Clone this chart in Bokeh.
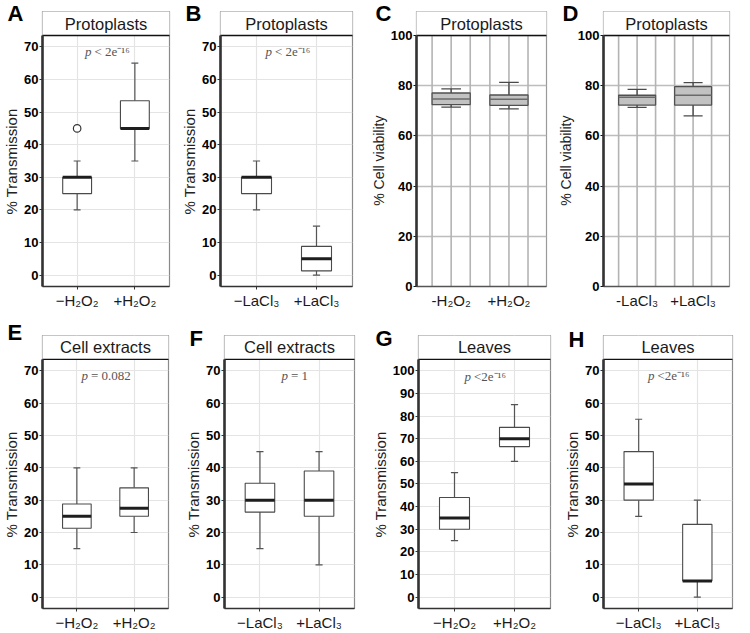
from bokeh.plotting import figure
from bokeh.layouts import row, column
from bokeh.models import Range1d, FixedTicker
from bokeh.core.properties import value
from bokeh.embed import file_html
from bokeh.resources import INLINE

SANS = "Liberation Sans"
SERIF = "Liberation Serif"
NBSP = "\u00a0"

# ---------------- data ----------------
H2O2_groups = ["\u2212H\u2082O\u2082", "+H\u2082O\u2082"]
LaCl_groups = ["\u2212LaCl\u2083", "+LaCl\u2083"]
H2O2_groups_v = ["-H\u2082O\u2082", "+H\u2082O\u2082"]
LaCl_groups_v = ["-LaCl\u2083", "+LaCl\u2083"]
P_SMALL = "< 2e\u207b\u00b9\u2076"
P_SMALL2 = "<2e\u207b\u00b9\u2076"

# A  Protoplasts, H2O2, % transmission
a_low = [20, 35]
a_q1 = [25, 45]
a_med = [30, 45]
a_q3 = [30, 53.5]
a_high = [35, 65]
a_out_idx = [0]
a_out_val = [45]

# B  Protoplasts, LaCl3, % transmission
b_low = [20, 0]
b_q1 = [25, 1.3]
b_med = [30, 5]
b_q3 = [30, 8.8]
b_high = [35, 15]

# C  Protoplasts, H2O2, % cell viability
c_low = [71.5, 70.8]
c_q1 = [72.5, 72.2]
c_med = [74.7, 74.6]
c_q3 = [77.1, 76.3]
c_high = [78.7, 81.3]

# D  Protoplasts, LaCl3, % cell viability
d_low = [71.4, 68.0]
d_q1 = [72.3, 72.3]
d_med = [75.4, 76.2]
d_q3 = [76.2, 79.6]
d_high = [78.5, 81.2]

# E  Cell extracts, H2O2
e_low = [15, 20]
e_q1 = [21.3, 25]
e_med = [25, 27.5]
e_q3 = [28.8, 33.8]
e_high = [40, 40]

# F  Cell extracts, LaCl3
f_low = [15, 10]
f_q1 = [26.3, 25]
f_med = [30, 30]
f_q3 = [35.2, 39]
f_high = [45, 45]

# G  Leaves, H2O2
g_low = [25, 60]
g_q1 = [30, 66.5]
g_med = [35, 70]
g_q3 = [44, 75]
g_high = [55, 85]

# H  Leaves, LaCl3
h_low = [25, 0]
h_q1 = [30, 5]
h_med = [35, 5]
h_q3 = [45, 22.5]
h_high = [55, 30]

trans_ticks = [0, 10, 20, 30, 40, 50, 60, 70]
leaf_ticks = [0, 10, 20, 30, 40, 50, 60, 70, 80, 90, 100]
viab_ticks = [0, 20, 40, 60, 80, 100]

# ---------------- layout constants ----------------
STRIP_PX = 24
ROW1 = dict(top=11, panel=251, bottom=32, letter=-28)
ROW2 = dict(top=17, panel=250, bottom=24, letter=-24)


def base_fig(width, L, R, rw, xlo, xhi, ylo, yhi, letter, letter_standoff, title,
             ylabel, ylabel_size, yticks, outline):
    panel = rw["panel"]
    ytop = yhi + (yhi - ylo) * STRIP_PX / panel
    p = figure(width=width, height=rw["top"] + STRIP_PX + panel + rw["bottom"],
               x_range=Range1d(xlo, xhi), y_range=Range1d(ylo, ytop), title=letter,
               toolbar_location=None, output_backend="svg",
               min_border_left=L, min_border_right=R, min_border_top=rw["top"],
               min_border_bottom=rw["bottom"])
    # panel letter as the plot title, pushed to the left corner
    p.title.text_font = SANS
    p.title.text_font_size = "22px"
    p.title.text_font_style = "bold"
    p.title.text_color = "black"
    p.title.align = "left"
    p.title.offset = -(L - 1)
    p.title.standoff = letter_standoff
    p.title.vertical_align = "bottom"

    p.outline_line_color = outline
    p.outline_line_width = 1.2
    xs = [1, 2]
    p.xaxis.ticker = FixedTicker(ticks=xs)
    p.yaxis.ticker = FixedTicker(ticks=yticks)
    p.xaxis.axis_line_color = "#333333"
    p.xaxis.axis_line_width = 1.3
    p.yaxis.axis_line_color = None
    for ax in (p.xaxis, p.yaxis):
        ax.major_tick_line_color = "#333333"
        ax.major_tick_out = 3
        ax.major_tick_in = 0
        ax.minor_tick_line_color = None
        ax.major_label_text_font = SANS
    p.yaxis.major_label_text_font_style = "bold"
    p.yaxis.major_label_text_font_size = "13px"
    p.yaxis.major_label_text_color = "#000000"
    p.yaxis.major_label_standoff = 1
    p.xaxis.major_label_text_font_size = "15px"
    p.xaxis.major_label_text_color = "#1a1a1a"
    p.xaxis.major_label_standoff = 2
    # y axis title, padded so that it is centred on the panel below the strip
    p.yaxis.axis_label = ylabel + NBSP * 6
    p.yaxis.axis_label_text_font = SANS
    p.yaxis.axis_label_text_font_style = "normal"
    p.yaxis.axis_label_text_font_size = ylabel_size
    p.yaxis.axis_label_text_color = "#222222"
    p.yaxis.axis_label_standoff = 1

    # strip header (inside the frame, above the panel)
    p.quad(left=[xlo], right=[xhi], bottom=[yhi], top=[ytop], fill_color="white",
           line_color=None, level="overlay")
    p.segment(x0=[xlo], x1=[xhi], y0=[yhi], y1=[yhi], line_color="#111111",
              line_width=1.4, level="overlay")
    p.text(x=[(xlo + xhi) / 2], y=[(yhi + ytop) / 2], text=[title],
           text_align="center", text_baseline="middle", text_font=value(SANS),
           text_font_size="16.5px", text_color="#1a1a1a", level="overlay")
    # left panel border (axis line limited to the panel)
    p.segment(x0=[xlo], x1=[xlo], y0=[ylo], y1=[yhi], line_color="#333333",
              line_width=2.6, level="overlay")
    return p


def trans_panel(letter, title, groups, low, q1, med, q3, high, pstr, yticks,
                ylo, yhi, p_y, p_off, width, L, R, rw, letter_standoff=None,
                out_idx=(), out_val=()):
    if letter_standoff is None:
        letter_standoff = rw["letter"]
    p = base_fig(width, L, R, rw, 0.4, 2.6, ylo, yhi, letter, letter_standoff, title,
                 "% Transmission", "15px", yticks, "#8a8a8a")
    xs = [1, 2]
    p.xaxis.major_label_overrides = {1: groups[0], 2: groups[1]}
    p.xgrid.ticker = FixedTicker(ticks=xs)
    p.ygrid.ticker = FixedTicker(ticks=yticks)
    p.grid.grid_line_color = "#e4e4e4"
    p.grid.grid_line_width = 1.2

    bw = 0.5
    cw = 0.06
    p.segment(x0=xs, x1=xs, y0=q3, y1=high, line_color="#555555", line_width=1.2)
    p.segment(x0=xs, x1=xs, y0=low, y1=q1, line_color="#555555", line_width=1.2)
    p.segment(x0=[x - cw for x in xs], x1=[x + cw for x in xs], y0=high, y1=high,
              line_color="#555555", line_width=1.2)
    p.segment(x0=[x - cw for x in xs], x1=[x + cw for x in xs], y0=low, y1=low,
              line_color="#555555", line_width=1.2)
    p.vbar(x=xs, width=bw, bottom=q1, top=q3, fill_color="white",
           line_color="#4a4a4a", line_width=1.1)
    p.segment(x0=[x - bw / 2 for x in xs], x1=[x + bw / 2 for x in xs], y0=med, y1=med,
              line_color="#1e1e1e", line_width=3)
    if len(out_val):
        p.scatter(x=[xs[i] for i in out_idx], y=list(out_val), size=7.5, marker="circle",
                  fill_color="white", line_color="#333333", line_width=1.2)
    p.text(x=[1.5], y=[p_y], text=["p"], x_offset=p_off, text_baseline="middle",
           text_align="left", text_font=value(SERIF), text_font_style="italic",
           text_font_size="13px", text_color="#555555")
    p.text(x=[1.5], y=[p_y], text=[pstr], x_offset=p_off + 9.5, text_baseline="middle",
           text_align="left", text_font=value(SERIF), text_font_size="13px",
           text_color="#555555")
    return p


def viab_panel(letter, title, groups, low, q1, med, q3, high, width, L, R, rw):
    p = base_fig(width, L, R, rw, 0.4, 2.65, 0, 100, letter, rw["letter"], title,
                 "% Cell viability", "14px", viab_ticks, "#9a9a9a")
    xs = [1, 2]
    p.xaxis.major_label_overrides = {1: groups[0], 2: groups[1]}
    p.xgrid.visible = False
    p.ygrid.ticker = FixedTicker(ticks=viab_ticks)
    p.ygrid.grid_line_color = "#bdbdbd"
    p.ygrid.grid_line_width = 1.6
    p.xaxis.major_tick_line_color = None
    p.xaxis.axis_line_color = "#555555"
    p.yaxis.major_tick_line_color = "#111111"

    bw = 0.66
    cw = 0.17
    vx = []
    for x in xs:
        vx += [x - bw / 2, x, x + bw / 2]
    p.segment(x0=vx, x1=vx, y0=[0] * len(vx), y1=[100] * len(vx),
              line_color="#b4b4b4", line_width=1.6)
    p.segment(x0=xs, x1=xs, y0=q3, y1=high, line_color="#4a4a4a", line_width=1.3)
    p.segment(x0=xs, x1=xs, y0=low, y1=q1, line_color="#4a4a4a", line_width=1.3)
    p.segment(x0=[x - cw for x in xs], x1=[x + cw for x in xs], y0=high, y1=high,
              line_color="#4a4a4a", line_width=1.3)
    p.segment(x0=[x - cw for x in xs], x1=[x + cw for x in xs], y0=low, y1=low,
              line_color="#4a4a4a", line_width=1.3)
    p.vbar(x=xs, width=bw, bottom=q1, top=q3, fill_color="#c2c2c2",
           line_color="#505050", line_width=1.3)
    p.segment(x0=[x - bw / 2 for x in xs], x1=[x + bw / 2 for x in xs], y0=med, y1=med,
              line_color="#6a6a6a", line_width=1.4)
    return p


pA = trans_panel("A", "Protoplasts", H2O2_groups, a_low, a_q1, a_med, a_q3, a_high,
                 P_SMALL, trans_ticks, -3.5, 73.5, 68.5, -21, 178, 36, 9, ROW1,
                 out_idx=a_out_idx, out_val=a_out_val)
pB = trans_panel("B", "Protoplasts", LaCl_groups, b_low, b_q1, b_med, b_q3, b_high,
                 P_SMALL, trans_ticks, -3.5, 73.5, 68.5, -21, 189, 36, 15, ROW1)
pC = viab_panel("C", "Protoplasts", H2O2_groups_v, c_low, c_q1, c_med, c_q3, c_high,
                187, 42, 8, ROW1)
pD = viab_panel("D", "Protoplasts", LaCl_groups_v, d_low, d_q1, d_med, d_q3, d_high,
                180, 42, 5, ROW1)
pE = trans_panel("E", "Cell extracts", H2O2_groups, e_low, e_q1, e_med, e_q3, e_high,
                 "= 0.082", trans_ticks, -3.5, 73.5, 68.5, -24, 182, 36, 14, ROW2,
                 letter_standoff=-18)
pF = trans_panel("F", "Cell extracts", LaCl_groups, f_low, f_q1, f_med, f_q3, f_high,
                 "= 1", trans_ticks, -3.5, 73.5, 68.5, -8, 186, 36, 14, ROW2,
                 letter_standoff=-30)
pG = trans_panel("G", "Leaves", H2O2_groups, g_low, g_q1, g_med, g_q3, g_high,
                 P_SMALL2, leaf_ticks, -5, 105, 97.5, -20, 193, 44, 11, ROW2,
                 letter_standoff=-30)
pH = trans_panel("H", "Leaves", LaCl_groups, h_low, h_q1, h_med, h_q3, h_high,
                 P_SMALL2, trans_ticks, -3.5, 73.5, 68.5, -20, 173, 36, 2, ROW2,
                 letter_standoff=-32)

layout = column(row(pA, pB, pC, pD, spacing=0), row(pE, pF, pG, pH, spacing=0), spacing=0)

open("out.html", "w").write(file_html(layout, INLINE))
